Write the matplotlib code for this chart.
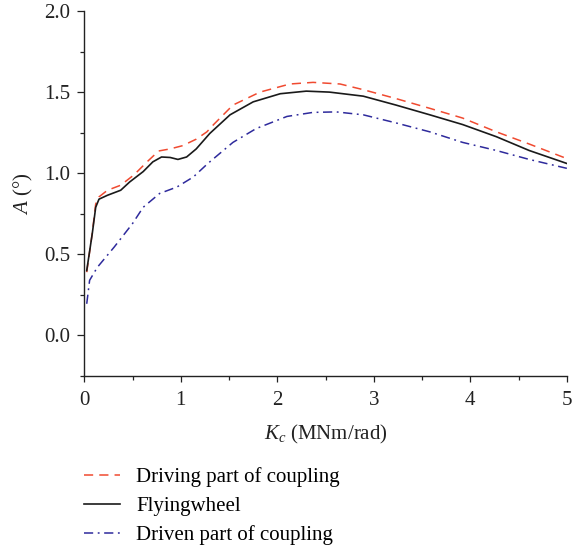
import matplotlib
matplotlib.use("Agg")
import matplotlib.pyplot as plt
from matplotlib.ticker import MultipleLocator

plt.rcParams['font.family'] = ['Liberation Serif', 'DejaVu Serif']
plt.rcParams['mathtext.fontset'] = 'custom'
plt.rcParams['mathtext.rm'] = 'Liberation Serif'
plt.rcParams['mathtext.it'] = 'Liberation Serif:italic'

# Driving part of coupling
kc_driving = [0.025, 0.08, 0.118, 0.152, 0.24, 0.377, 0.515, 0.65, 0.77, 0.89, 1.02, 1.16, 1.27,
              1.34, 1.54, 1.82, 2.13, 2.37, 2.65, 2.89, 3.23, 3.58, 3.92, 4.27, 4.61, 5.0]
a_driving = [0.39, 0.62, 0.81, 0.854, 0.895, 0.926, 0.99, 1.07, 1.137, 1.15, 1.17, 1.21, 1.255,
             1.30, 1.42, 1.50, 1.55, 1.56, 1.55, 1.515, 1.46, 1.40, 1.34, 1.255, 1.18, 1.09]

# Flyingwheel
kc_fly = [0.025, 0.083, 0.118, 0.152, 0.24, 0.377, 0.47, 0.61, 0.71, 0.80, 0.89, 0.97, 1.06, 1.16,
          1.30, 1.51, 1.75, 2.03, 2.30, 2.54, 2.89, 3.23, 3.58, 3.92, 4.27, 4.61, 5.0]
a_fly = [0.40, 0.63, 0.79, 0.84, 0.864, 0.895, 0.946, 1.01, 1.07, 1.10, 1.097, 1.085, 1.10, 1.15,
         1.245, 1.36, 1.44, 1.49, 1.506, 1.50, 1.475, 1.42, 1.36, 1.30, 1.225, 1.14, 1.06]

# Driven part of coupling
kc_driven = [0.025, 0.055, 0.135, 0.31, 0.50, 0.61, 0.78, 0.96, 1.13, 1.28, 1.54, 1.78,
             2.10, 2.37, 2.61, 2.89, 3.23, 3.58, 3.92, 4.27, 4.61, 5.0]
a_driven = [0.195, 0.34, 0.42, 0.545, 0.69, 0.79, 0.875, 0.915, 0.977, 1.06, 1.19, 1.275,
            1.35, 1.375, 1.378, 1.36, 1.31, 1.255, 1.19, 1.14, 1.085, 1.03]

labels = ["Driving part of coupling", "Flyingwheel", "Driven part of coupling"]

fig = plt.figure(figsize=(5.72, 5.5), dpi=100)
ax = fig.add_axes([0.1474, 0.3164, 0.8436, 0.6636])

l1, = ax.plot(kc_driving, a_driving, color='#f04a30', lw=1.1, dashes=(6, 4), label=labels[0])
l2, = ax.plot(kc_fly, a_fly, color='#1a1a1a', lw=1.2, label=labels[1])
l3, = ax.plot(kc_driven, a_driven, color='#2e2a9c', lw=1.1, dashes=(6, 3, 1.2, 3), label=labels[2])

ax.set_xlim(0, 5)
ax.set_ylim(-0.25, 2.0)
ax.xaxis.set_major_locator(MultipleLocator(1))
ax.xaxis.set_minor_locator(MultipleLocator(0.5))
ax.yaxis.set_minor_locator(MultipleLocator(0.25))
ax.set_yticks([0.0, 0.5, 1.0, 1.5, 2.0])
ax.set_yticklabels(["0.0", "0.5", "1.0", "1.5", "2.0"])

for s in ['top', 'right']:
    ax.spines[s].set_visible(False)
for s in ['left', 'bottom']:
    ax.spines[s].set_linewidth(1.0)
    ax.spines[s].set_color('#222222')

ax.tick_params(which='major', direction='out', length=5, width=0.9, labelsize=15, colors='#222222', pad=5)
ax.tick_params(which='minor', direction='out', length=3, width=0.9, colors='#222222')
ax.tick_params(axis='x', which='major', length=4, pad=7)

ax.set_xlabel(r'$K_c$ (MNm/rad)', fontsize=15, color='#222222', labelpad=9)
ax.set_ylabel(r'$A$ (°)', fontsize=15, color='#222222', labelpad=7)

fig.legend(handles=[l1, l2, l3], labels=labels, loc='upper left', bbox_to_anchor=(0.132, 0.166),
           frameon=False, fontsize=15, handlelength=1.75, handletextpad=0.75, labelspacing=0.45,
           borderaxespad=0)

fig.savefig('out.png', dpi=100)
